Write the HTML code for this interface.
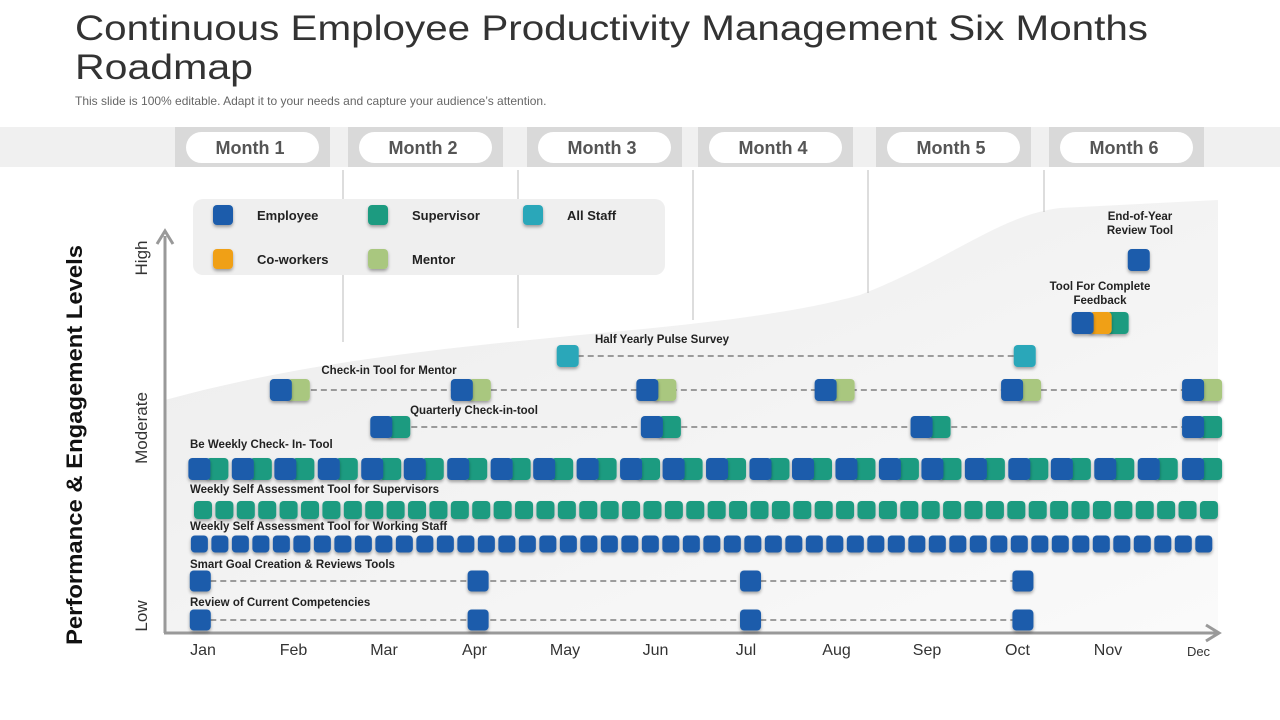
<!DOCTYPE html>
<html><head><meta charset="utf-8"><style>
html,body{margin:0;padding:0;background:#fff;}
svg{display:block;font-family:"Liberation Sans",Arial,sans-serif;}
</style></head><body>
<svg id="chart" width="1280" height="720" viewBox="0 0 1280 720">
<defs>
<filter id="sh" x="-30%" y="-30%" width="160%" height="170%"><feDropShadow dx="0" dy="2" stdDeviation="1.5" flood-color="#000" flood-opacity="0.35"/></filter>
<linearGradient id="bg" x1="0" y1="0" x2="1" y2="1"><stop offset="0" stop-color="#ececec"/><stop offset="1" stop-color="#fafafa"/></linearGradient>
</defs>
<text x="75" y="40" font-size="35" fill="#333" textLength="1073" lengthAdjust="spacingAndGlyphs">Continuous Employee Productivity Management Six Months</text>
<text x="75" y="79" font-size="35" fill="#333" textLength="178" lengthAdjust="spacingAndGlyphs">Roadmap</text>
<text x="75" y="105" font-size="12" fill="#666">This slide is 100% editable. Adapt it to your needs and capture your audience’s attention.</text>
<rect x="0" y="127" width="1280" height="40" fill="#f0f0f0"/>
<g id="months"></g>
<path d="M165,400 C420,330 700,340 860,295 C950,260 1000,215 1060,208 L1218,200 L1218,633 L165,633 Z" fill="url(#bg)"/>
<g id="vlines"></g>
<rect x="193" y="199" width="472" height="76" rx="10" fill="#efefef"/>
<g id="legend"></g>
<line x1="165" y1="633" x2="165" y2="236" stroke="#999" stroke-width="3"/>
<polyline points="157,244 165,231 173,244" fill="none" stroke="#999" stroke-width="3"/>
<line x1="164" y1="633" x2="1218" y2="633" stroke="#999" stroke-width="3"/>
<polyline points="1206,625 1219,633 1206,641" fill="none" stroke="#999" stroke-width="3"/>
<text transform="translate(147,258) rotate(-90)" font-size="17" fill="#333" text-anchor="middle">High</text>
<text transform="translate(147,428) rotate(-90)" font-size="17" fill="#333" text-anchor="middle">Moderate</text>
<text transform="translate(147,616) rotate(-90)" font-size="17" fill="#333" text-anchor="middle">Low</text>
<text transform="translate(82,445) rotate(-90)" font-size="22" font-weight="bold" fill="#111" text-anchor="middle" textLength="400" lengthAdjust="spacingAndGlyphs">Performance &amp; Engagement Levels</text>
<g id="xt"></g>
<g id="marks"></g>
</svg>
<script>
const monthLabels=["Jan","Feb","Mar","Apr","May","Jun","Jul","Aug","Sep","Oct","Nov","Dec"];
const headerMonths=["Month 1","Month 2","Month 3","Month 4","Month 5","Month 6"];
const headerX=[175,348,527,698,876,1049];
const endYear=[10.34];
const feedback=[9.72];
const pulse=[4.03,9.08];
const mentor=[0.86,2.86,4.91,6.88,8.94,10.94];
const quarterly=[1.97,4.96,7.94,10.94];
const biWeekly=[-0.04,0.44,0.91,1.39,1.87,2.34,2.82,3.3,3.77,4.25,4.73,5.2,5.68,6.16,6.63,7.11,7.59,8.06,8.54,9.02,9.49,9.97,10.45,10.94];
const supWeeks=48, staffWeeks=50;
const smartGoal=[-0.03,3.04,6.05,9.06];
const review=[-0.03,3.04,6.05,9.06];
const C={blue:"#1a5cab",green:"#1d9b80",light:"#a9c77f",cyan:"#2ba7b9",orange:"#f0a015"};
const NS="http://www.w3.org/2000/svg";
const X=m=>203+m*90.5;
function el(tag,attrs,parent,txt){const e=document.createElementNS(NS,tag);for(const k in attrs)e.setAttribute(k,attrs[k]);if(txt!==undefined)e.textContent=txt;parent.appendChild(e);return e;}
const mg=document.getElementById('months');
headerMonths.forEach((t,i)=>{
  const r=el('rect',{x:headerX[i],y:127,width:155,height:40,fill:'#d9d9d9'},mg);
  
  
  const p=el('rect',{x:headerX[i]+11,y:132,width:133,height:31,rx:15.5,fill:'#fff'},mg);
  
  
  const tx=el('text',{x:headerX[i]+75,y:154,'font-size':18,'font-weight':'bold',fill:'#555','text-anchor':'middle'},mg,t);
  
  
});
const vg=document.getElementById('vlines');
[[343,342],[518,328],[693,320],[868,293],[1044,212]].forEach(v=>{
  const l=el('line',{x1:v[0],y1:170,x2:v[0],y2:v[1],stroke:'#bbb','stroke-width':1},vg);
  
  
});
const xt=document.getElementById('xt');
monthLabels.forEach((m,i)=>{
  const t=el('text',{x:X(i),y:i==11?656:655,'font-size':i==11?13:16,fill:'#333','text-anchor':'middle'},xt,m);
  
  
});
const mk=document.getElementById('marks');
function sq(x,y,col,s,p){const r=el('rect',{x:x-s/2,y:y-s/2,width:s,height:s,rx:4,fill:col,filter:'url(#sh)'},p||mk);return r;}
const lg=document.getElementById('legend');
[["Employee",C.blue,223,215],["Supervisor",C.green,378,215],["All Staff",C.cyan,533,215],["Co-workers",C.orange,223,259],["Mentor",C.light,378,259]].forEach(a=>{
  const r=sq(a[2],a[3],a[1],20,lg);
  
  
  const t=el('text',{x:a[2]+34,y:a[3]+5,'font-size':13,'font-weight':'bold',fill:'#222'},lg,a[0]);
  
  
});
function label(x,y,txt,anchor){const t=el('text',{x:x,y:y,'font-size':11.5,'font-weight':'bold',fill:'#222','text-anchor':anchor||'start'},mk,txt);
  
  }
function dash(y,arr){const l=el('line',{x1:X(arr[0]),y1:y,x2:X(arr[arr.length-1]),y2:y,stroke:'#444','stroke-width':1,'stroke-dasharray':'6,4'},mk);
  
  }
function pair(x,y,c1,c2){const b=sq(x+18,y,c2,22);
  const a=sq(x,y,c1,22);}
label(1140,220,"End-of-Year","middle");label(1140,234,"Review Tool","middle");
endYear.forEach(m=>{const r=sq(X(m),260,C.blue,22);});
label(1100,290,"Tool For Complete","middle");label(1100,304,"Feedback","middle");
feedback.forEach(m=>{const x=X(m);
  const g=sq(x+35,323,C.green,22);
  const o=sq(x+18,323,C.orange,22);
  const b=sq(x,323,C.blue,22);});
label(662,343,"Half Yearly Pulse Survey","middle");
dash(356,pulse);
pulse.forEach(m=>{const r=sq(X(m),356,C.cyan,22);});
label(389,374,"Check-in Tool for Mentor","middle");
dash(390,mentor);
mentor.forEach(m=>pair(X(m),390,C.blue,C.light));
label(474,414,"Quarterly Check-in-tool","middle");
dash(427,quarterly);
quarterly.forEach(m=>pair(X(m),427,C.blue,C.green));
label(190,448,"Be Weekly Check- In- Tool");
biWeekly.forEach(m=>pair(X(m),469,C.blue,C.green));
label(190,493,"Weekly Self Assessment Tool for Supervisors");
for(let i=0;i<supWeeks;i++){const r=sq(X(i*0.2365),510,C.green,18);}
label(190,530,"Weekly Self Assessment Tool for Working Staff");
for(let i=0;i<staffWeeks;i++){const r=sq(X(-0.04+i*0.2265),544,C.blue,17);}
label(190,568,"Smart Goal Creation & Reviews Tools");
dash(581,smartGoal);
smartGoal.forEach(m=>{const r=sq(X(m),581,C.blue,21);});
label(190,606,"Review of Current Competencies");
dash(620,review);
review.forEach(m=>{const r=sq(X(m),620,C.blue,21);});
</script>
</body></html>
